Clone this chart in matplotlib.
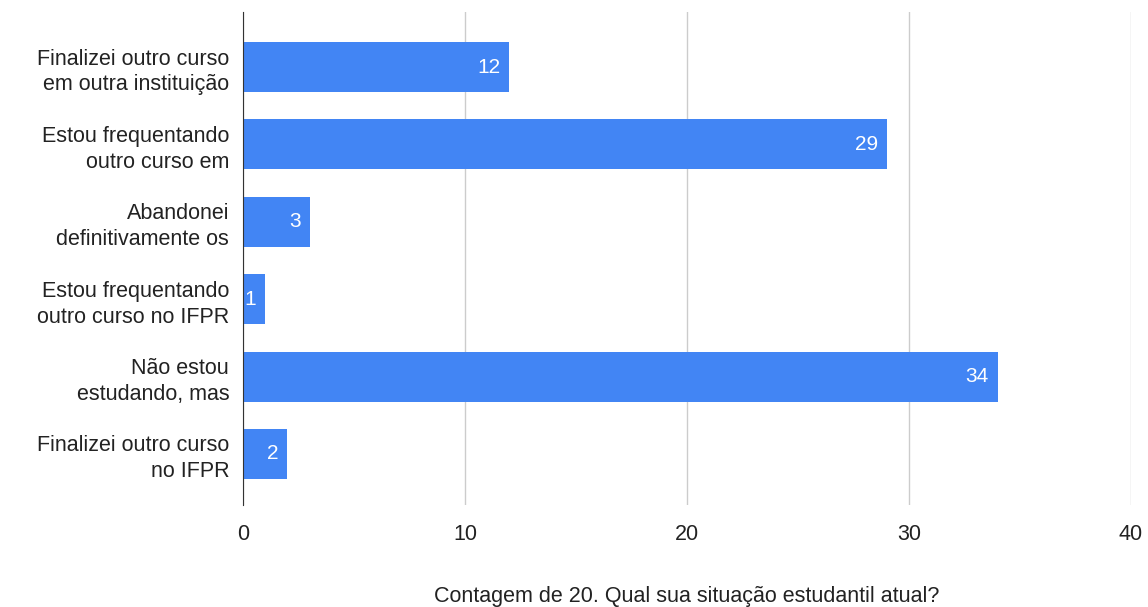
import matplotlib
matplotlib.use('Agg')
import matplotlib.pyplot as plt

# respostas (rótulos truncados como no gráfico original)
categorias = ['Finalizei outro curso\nem outra instituição',
              'Estou frequentando\noutro curso em',
              'Abandonei\ndefinitivamente os',
              'Estou frequentando\noutro curso no IFPR',
              'Não estou\nestudando, mas',
              'Finalizei outro curso\nno IFPR']
contagem = [12, 29, 3, 1, 34, 2]
xticks = [0, 10, 20, 30, 40]

plt.rcParams['font.family'] = ['Liberation Sans', 'DejaVu Sans']

fig = plt.figure(figsize=(11.48, 6.07), dpi=100)
ax = fig.add_axes([0.2117, 0.168, 0.7735, 0.812])

pos = list(range(len(categorias)))
bars = ax.barh(pos, contagem, height=0.645, color='#4285f4', zorder=3)

for b, v in zip(bars, contagem):
    ax.text(b.get_width() - 0.4, b.get_y() + b.get_height() / 2, str(v),
            ha='right', va='center', color='white', fontsize=15, zorder=4)

ax.set_xlim(0, 40)
ax.set_ylim(5.66, -0.71)
ax.set_yticks(pos)
ax.set_yticklabels(categorias, fontsize=15.5, color='#222222', linespacing=1.3)
ax.set_xticks(xticks)
ax.set_xticklabels([str(t) for t in xticks], fontsize=15.5, color='#222222')
ax.tick_params(axis='both', length=0)
ax.tick_params(axis='x', pad=14)
ax.tick_params(axis='y', pad=10)

ax.grid(axis='x', color='#cccccc', linewidth=1, zorder=0)
for s in ['top', 'right', 'bottom']:
    ax.spines[s].set_visible(False)
ax.spines['left'].set_color('#333333')
ax.spines['left'].set_zorder(5)

ax.set_xlabel('Contagem de 20. Qual sua situação estudantil atual?',
              fontsize=15.5, color='#222222', labelpad=29)

fig.savefig('out.png', dpi=100)
